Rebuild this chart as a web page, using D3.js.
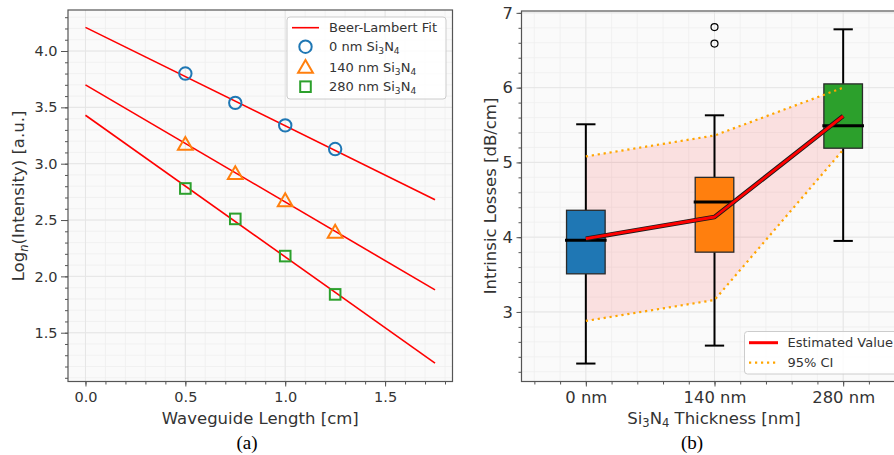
<!DOCTYPE html>
<html>
<head>
<meta charset="utf-8">
<script src="https://cdn.jsdelivr.net/npm/d3@7"></script>
<style>
  body { margin: 0; background: #fff; }
  text { font-family: "DejaVu Sans", sans-serif; fill: #333; }
  .caption { font-family: "Liberation Serif", "DejaVu Serif", serif; fill: #000; }
</style>
</head>
<body>
<svg id="chart" width="894" height="455"></svg>
<script>
// ---- panel (a) data ----
const lengths = [0.5, 0.75, 1.0, 1.25];
const intensity0 = [3.80, 3.54, 3.34, 3.13];
const intensity140 = [3.17, 2.91, 2.67, 2.39];
const intensity280 = [2.78, 2.51, 2.18, 1.84];
const fitRange = [0, 1.75];
const fitStart = [4.21, 3.70, 3.43];   // fit value at x = 0
const fitEnd = [2.68, 1.88, 1.23];     // fit value at x = 1.75
const xTicksA = [0, 0.5, 1.0, 1.5];
const yTicksA = [1.5, 2.0, 2.5, 3.0, 3.5, 4.0];

// ---- panel (b) data ----
const thickness = ["0 nm", "140 nm", "280 nm"];
const whiskerLow = [2.31, 2.55, 3.95];
const q1 = [3.51, 3.80, 5.19];
const median = [3.96, 4.47, 5.49];
const q3 = [4.36, 4.80, 6.05];
const whiskerHigh = [5.51, 5.63, 6.78];
const outliers = [[], [6.59, 6.81], []];
const estimate = [3.98, 4.27, 5.62];
const ciLow = [2.88, 3.16, 5.17];
const ciHigh = [5.08, 5.36, 6.00];
const yTicksB = [3, 4, 5, 6, 7];

const colors = ["#1f77b4", "#ff7f0e", "#2ca02c"];
const svg = d3.select("#chart");

// append "Si3N4" with subscripts; returns the dy needed to get back to baseline
function siN(t, fs) {
  const s = fs * 0.2;
  t.append("tspan").text("Si");
  t.append("tspan").attr("font-size", fs * 0.7).attr("dy", s).text("3");
  t.append("tspan").attr("dy", -s).text("N");
  t.append("tspan").attr("font-size", fs * 0.7).attr("dy", s).text("4");
  return -s;
}

function frame(g, x, y, minorX, minorY) {
  const [x0, x1] = x.range(), [y0, y1] = y.range();
  g.append("rect").attr("x", x0).attr("y", y1).attr("width", x1 - x0).attr("height", y0 - y1)
    .attr("fill", "#fafafa");
  g.append("g").selectAll("line").data(minorX).join("line")
    .attr("x1", d => x(d)).attr("x2", d => x(d)).attr("y1", y1).attr("y2", y0)
    .attr("stroke", "#efefef").attr("stroke-width", 0.8);
  g.append("g").selectAll("line").data(minorY).join("line")
    .attr("y1", d => y(d)).attr("y2", d => y(d)).attr("x1", x0).attr("x2", x1)
    .attr("stroke", "#efefef").attr("stroke-width", 0.8);
}

function majorGrid(g, x, y, tx, ty) {
  const [x0, x1] = x.range(), [y0, y1] = y.range();
  g.append("g").selectAll("line").data(tx).join("line")
    .attr("x1", d => x(d)).attr("x2", d => x(d)).attr("y1", y1).attr("y2", y0)
    .attr("stroke", "#e6e6e6").attr("stroke-width", 1);
  g.append("g").selectAll("line").data(ty).join("line")
    .attr("y1", d => y(d)).attr("y2", d => y(d)).attr("x1", x0).attr("x2", x1)
    .attr("stroke", "#e6e6e6").attr("stroke-width", 1);
}

const styleAxis = fs => g => {
  g.select(".domain").remove();
  g.selectAll(".tick line").attr("stroke", "#555").attr("stroke-width", 1);
  g.selectAll(".tick text").attr("font-size", fs).attr("fill", "#333");
};

/* ================= panel (a) ================= */
const xA = d3.scaleLinear().domain([-0.0875, 1.8375]).range([68, 452.5]);
const yA = d3.scaleLinear().domain([1.067, 4.364]).range([381.5, 10]);
const gA = svg.append("g");

frame(gA, xA, yA, d3.range(0, 1.85, 0.1), d3.range(1.1, 4.35, 0.1));
majorGrid(gA, xA, yA, xTicksA, yTicksA);

// minor ticks
gA.append("g").attr("transform", "translate(0,381.5)")
  .call(d3.axisBottom(xA).tickValues(d3.range(0, 1.85, 0.1)).tickSize(3).tickFormat(""))
  .call(styleAxis(14.5));
gA.append("g").attr("transform", "translate(68,0)")
  .call(d3.axisLeft(yA).tickValues(d3.range(1.1, 4.35, 0.1)).tickSize(3).tickFormat(""))
  .call(styleAxis(14.5));
// major ticks
gA.append("g").attr("transform", "translate(0,381.5)")
  .call(d3.axisBottom(xA).tickValues(xTicksA).tickSize(5).tickPadding(5.5).tickFormat(d3.format(".1f")))
  .call(styleAxis(14.5));
gA.append("g").attr("transform", "translate(68,0)")
  .call(d3.axisLeft(yA).tickValues(yTicksA).tickSize(7).tickPadding(3.5).tickFormat(d3.format(".1f")))
  .call(styleAxis(14.5));

// fit lines
const fits = fitStart.map((s, i) => [[fitRange[0], s], [fitRange[1], fitEnd[i]]]);
gA.append("g").selectAll("path").data(fits).join("path")
  .attr("d", d3.line().x(d => xA(d[0])).y(d => yA(d[1])))
  .attr("fill", "none").attr("stroke", "#ff0000").attr("stroke-width", 1.6);

const mk = gA.append("g").attr("fill", "none").attr("stroke-width", 2);
mk.selectAll("circle").data(intensity0).join("circle")
  .attr("cx", (d, i) => xA(lengths[i])).attr("cy", d => yA(d)).attr("r", 6.2)
  .attr("stroke", colors[0]);
const tri = d3.symbol().type(d3.symbolTriangle).size(95);
mk.selectAll("path.tri").data(intensity140).join("path").attr("class", "tri")
  .attr("d", tri)
  .attr("transform", (d, i) => `translate(${xA(lengths[i])},${yA(d) + 1})`)
  .attr("stroke", colors[1]);
mk.selectAll("rect").data(intensity280).join("rect")
  .attr("x", (d, i) => xA(lengths[i]) - 5.3).attr("y", d => yA(d) - 5.3)
  .attr("width", 10.6).attr("height", 10.6)
  .attr("stroke", colors[2]);

// spines
gA.append("rect").attr("x", 68).attr("y", 10).attr("width", 452.5 - 68).attr("height", 371.5)
  .attr("fill", "none").attr("stroke", "#555").attr("stroke-width", 1.2);

// legend (a)
const legA = gA.append("g");
legA.append("rect").attr("x", 287).attr("y", 17).attr("width", 159).attr("height", 82).attr("rx", 3)
  .attr("fill", "#fff").attr("fill-opacity", 0.85).attr("stroke", "#ccc");
legA.append("line").attr("x1", 292).attr("x2", 319).attr("y1", 27.7).attr("y2", 27.7)
  .attr("stroke", "#ff0000").attr("stroke-width", 1.6);
legA.append("circle").attr("cx", 305.5).attr("cy", 46.7).attr("r", 6.2)
  .attr("fill", "none").attr("stroke", colors[0]).attr("stroke-width", 2);
legA.append("path").attr("d", tri).attr("transform", "translate(305.5,68.5)")
  .attr("fill", "none").attr("stroke", colors[1]).attr("stroke-width", 2);
legA.append("rect").attr("x", 300.2).attr("y", 81.4).attr("width", 10.6).attr("height", 10.6)
  .attr("fill", "none").attr("stroke", colors[2]).attr("stroke-width", 2);
legA.append("text").attr("x", 329).attr("y", 32.3).attr("font-size", 13).text("Beer-Lambert Fit");
[46.7, 67.5, 86.7].forEach((yy, i) => {
  const t = legA.append("text").attr("x", 329).attr("y", yy + 4.6).attr("font-size", 13);
  t.append("tspan").text(thickness[i] + " ");
  siN(t, 13);
});

// axis titles (a)
gA.append("text").attr("x", 260.3).attr("y", 424).attr("text-anchor", "middle")
  .attr("font-size", 16.5).text("Waveguide Length [cm]");
const ylA = gA.append("text").attr("transform", "translate(24,196) rotate(-90)")
  .attr("text-anchor", "middle").attr("font-size", 16.5);
ylA.append("tspan").text("Log");
ylA.append("tspan").attr("font-style", "italic").attr("font-size", 11.5).attr("dy", 3.5).text("n");
ylA.append("tspan").attr("dy", -3.5).text("(Intensity) [a.u.]");

svg.append("text").attr("class", "caption").attr("x", 247).attr("y", 449)
  .attr("text-anchor", "middle").attr("font-size", 19).text("(a)");

/* ================= panel (b) ================= */
const xB = d3.scaleLinear().domain([0.5, 3.5]).range([521.5, 907.5]);
const yB = d3.scaleLinear().domain([2.07, 7.025]).range([381.5, 11]);
const gB = svg.append("g");
const pos = thickness.map((d, i) => i + 1);

frame(gB, xB, yB, d3.range(0.6, 3.5, 0.2), d3.range(2.2, 7.01, 0.2));
majorGrid(gB, xB, yB, pos, yTicksB);

gB.append("g").attr("transform", "translate(0,381.5)")
  .call(d3.axisBottom(xB).tickValues(d3.range(0.6, 3.5, 0.2)).tickSize(3).tickFormat(""))
  .call(styleAxis(16.4));
gB.append("g").attr("transform", "translate(521.5,0)")
  .call(d3.axisLeft(yB).tickValues(d3.range(2.2, 7.01, 0.2)).tickSize(3).tickFormat(""))
  .call(styleAxis(16.4));
gB.append("g").attr("transform", "translate(0,381.5)")
  .call(d3.axisBottom(xB).tickValues(pos).tickSize(5).tickPadding(5).tickFormat(d => thickness[d - 1]))
  .call(styleAxis(16.4));
gB.append("g").attr("transform", "translate(521.5,0)")
  .call(d3.axisLeft(yB).tickValues(yTicksB).tickSize(5).tickPadding(3.5).tickFormat(d3.format("d")))
  .call(styleAxis(16.4));

// CI band
const band = d3.area().x((d, i) => xB(pos[i])).y0((d, i) => yB(ciLow[i])).y1((d, i) => yB(ciHigh[i]));
gB.append("path").datum(thickness).attr("d", band).attr("fill", "#ff0000").attr("fill-opacity", 0.1);

// boxes
const half = 0.15 * (xB(2) - xB(1));
const cap = 0.075 * (xB(2) - xB(1));
const boxes = gB.append("g").selectAll("g").data(thickness).join("g");
boxes.append("line").attr("x1", (d, i) => xB(pos[i])).attr("x2", (d, i) => xB(pos[i]))
  .attr("y1", (d, i) => yB(whiskerLow[i])).attr("y2", (d, i) => yB(q1[i]))
  .attr("stroke", "#000").attr("stroke-width", 2);
boxes.append("line").attr("x1", (d, i) => xB(pos[i])).attr("x2", (d, i) => xB(pos[i]))
  .attr("y1", (d, i) => yB(q3[i])).attr("y2", (d, i) => yB(whiskerHigh[i]))
  .attr("stroke", "#000").attr("stroke-width", 2);
[whiskerLow, whiskerHigh].forEach(arr => {
  boxes.append("line").attr("x1", (d, i) => xB(pos[i]) - cap).attr("x2", (d, i) => xB(pos[i]) + cap)
    .attr("y1", (d, i) => yB(arr[i])).attr("y2", (d, i) => yB(arr[i]))
    .attr("stroke", "#000").attr("stroke-width", 2);
});
boxes.append("rect").attr("x", (d, i) => xB(pos[i]) - half).attr("width", 2 * half)
  .attr("y", (d, i) => yB(q3[i])).attr("height", (d, i) => yB(q1[i]) - yB(q3[i]))
  .attr("fill", (d, i) => colors[i]).attr("stroke", "#2a2a2a").attr("stroke-width", 1.3);
boxes.append("line").attr("x1", (d, i) => xB(pos[i]) - half - 1.5).attr("x2", (d, i) => xB(pos[i]) + half + 1.5)
  .attr("y1", (d, i) => yB(median[i])).attr("y2", (d, i) => yB(median[i]))
  .attr("stroke", "#000").attr("stroke-width", 3);
boxes.selectAll("circle").data((d, i) => outliers[i].map(v => [pos[i], v])).join("circle")
  .attr("cx", d => xB(d[0])).attr("cy", d => yB(d[1])).attr("r", 3.5)
  .attr("fill", "none").attr("stroke", "#000").attr("stroke-width", 1.2);

// CI lines
const ciLine = arr => d3.line().x((d, i) => xB(pos[i])).y((d, i) => yB(arr[i]));
[ciLow, ciHigh].forEach(arr => {
  gB.append("path").datum(thickness).attr("d", ciLine(arr))
    .attr("fill", "none").attr("stroke", "#ffa500").attr("stroke-width", 2.2)
    .attr("stroke-dasharray", "2.2,3.8");
});
// estimate line
gB.append("path").datum(thickness).attr("d", ciLine(estimate))
  .attr("fill", "none").attr("stroke", "#1a1a1a").attr("stroke-width", 4.6).attr("stroke-linejoin", "round");
gB.append("path").datum(thickness).attr("d", ciLine(estimate))
  .attr("fill", "none").attr("stroke", "#ff0000").attr("stroke-width", 2.8).attr("stroke-linejoin", "round");

// spines
gB.append("rect").attr("x", 521.5).attr("y", 11).attr("width", 907.5 - 521.5).attr("height", 370.5)
  .attr("fill", "none").attr("stroke", "#555").attr("stroke-width", 1.2);

// legend (b)
const legB = gB.append("g");
legB.append("rect").attr("x", 744.5).attr("y", 331.5).attr("width", 160).attr("height", 42.5).attr("rx", 3)
  .attr("fill", "#fff").attr("fill-opacity", 0.85).attr("stroke", "#ccc");
legB.append("line").attr("x1", 749).attr("x2", 778).attr("y1", 342.7).attr("y2", 342.7)
  .attr("stroke", "#ff0000").attr("stroke-width", 3);
legB.append("line").attr("x1", 749).attr("x2", 778).attr("y1", 362.7).attr("y2", 362.7)
  .attr("stroke", "#ffa500").attr("stroke-width", 2.2).attr("stroke-dasharray", "2.2,3.8");
legB.append("text").attr("x", 787.5).attr("y", 347.3).attr("font-size", 13).text("Estimated Value");
legB.append("text").attr("x", 787.5).attr("y", 367.3).attr("font-size", 13).text("95% CI");

// axis titles (b)
const xlB = gB.append("text").attr("x", 714).attr("y", 424).attr("text-anchor", "middle").attr("font-size", 16.5);
const back = siN(xlB, 16.5);
xlB.append("tspan").attr("dy", back).text(" Thickness [nm]");
gB.append("text").attr("transform", "translate(496,196) rotate(-90)")
  .attr("text-anchor", "middle").attr("font-size", 16.5).text("Intrinsic Losses [dB/cm]");

svg.append("text").attr("class", "caption").attr("x", 692).attr("y", 449)
  .attr("text-anchor", "middle").attr("font-size", 19).text("(b)");
</script>
</body>
</html>
